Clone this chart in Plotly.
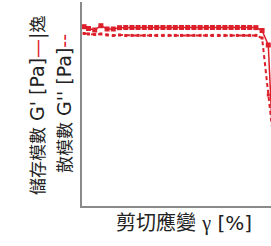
import plotly.graph_objects as go

# Shear strain gamma [%] (log axis)
strain = [0.0076, 0.01, 0.0147, 0.0215, 0.0316, 0.0464, 0.0681, 0.1, 0.147, 0.215,
          0.316, 0.464, 0.681, 1.0, 1.47, 2.15, 3.16, 4.64, 6.81, 10.0,
          14.7, 21.5, 31.6, 46.4, 68.1, 100.0, 147.0, 215.0, 316.0, 464.0,
          681.0, 1000.0]
# Storage modulus G' [Pa]
g_storage = [10370, 9550, 8930, 10840, 9350, 9350, 9910, 10000, 10000, 10000,
             10000, 10000, 10000, 10000, 10000, 10000, 10000, 10000, 10000, 10000,
             10000, 10000, 10000, 10000, 10000, 10000, 10000, 10000, 9950, 8730,
             4540, 10.2]
# Loss modulus G'' [Pa]
g_loss = [7630, 7460, 7300, 7460, 7130, 6960, 7130, 6960, 7000, 7000,
          7000, 7000, 7000, 7000, 7000, 7000, 7000, 7000, 7000, 7000,
          7000, 7000, 7000, 7000, 7000, 7000, 7000, 7000, 7000, 6220,
          474, 39.6]

LAT = "<span style='font-size:19px'>"
x_title = "<span style='font-size:20px'>剪切應變 </span><span style='font-family:Liberation Serif;font-size:20px'>γ</span><span style='font-size:20px'> [%]</span>"
y_title_1 = "儲存模數" + LAT + " G' [Pa]</span><span style='color:#e0202c;font-size:19px'>—</span>" + LAT + "|</span>逸"
y_title_2 = "散模數" + LAT + " G'' [Pa]</span><span style='color:#e0202c;font-size:19px'>--</span>"

RED = "#dc1f2a"
FONT = "DejaVu Sans, Noto Sans CJK TC, sans-serif"

fig = go.Figure()
fig.add_trace(go.Scatter(
    x=strain, y=g_storage, mode="lines+markers",
    line=dict(color=RED, width=1.5),
    marker=dict(symbol="square", size=5, color=RED),
    showlegend=False))
fig.add_trace(go.Scatter(
    x=strain, y=g_loss, mode="lines+markers",
    line=dict(color=RED, width=2, dash="4px,3px"),
    marker=dict(symbol="square", size=3, color=RED),
    showlegend=False))

fig.update_xaxes(type="log", range=[-2.175, 2.906], showgrid=False, zeroline=False,
                 showticklabels=False, ticks="", showline=True,
                 linecolor="#8a8a8a", linewidth=2)
fig.update_yaxes(type="log", range=[0.5, 4.5], showgrid=False, zeroline=False,
                 showticklabels=False, ticks="", showline=True,
                 linecolor="#8a8a8a", linewidth=2)

ann_font = dict(family=FONT, size=17, color="#222222")
fig.add_annotation(text=x_title, xref="paper", yref="paper", x=0.54, y=-0.083,
                   xanchor="center", yanchor="middle", showarrow=False, font=ann_font)
fig.add_annotation(text=y_title_1, xref="paper", yref="paper", x=-0.238, y=0.495,
                   xanchor="center", yanchor="middle", showarrow=False,
                   textangle=-90, font=ann_font)
fig.add_annotation(text=y_title_2, xref="paper", yref="paper", x=-0.0952, y=0.50,
                   xanchor="center", yanchor="middle", showarrow=False,
                   textangle=-90, font=ann_font)

fig.update_layout(width=271, height=246, margin=dict(l=82, r=0, t=2, b=40),
                  plot_bgcolor="white", paper_bgcolor="white", font=dict(family=FONT))
fig.write_html("out.html", config={"displayModeBar": False},
               post_script="document.body.style.margin='0';document.body.style.overflow='hidden';")
